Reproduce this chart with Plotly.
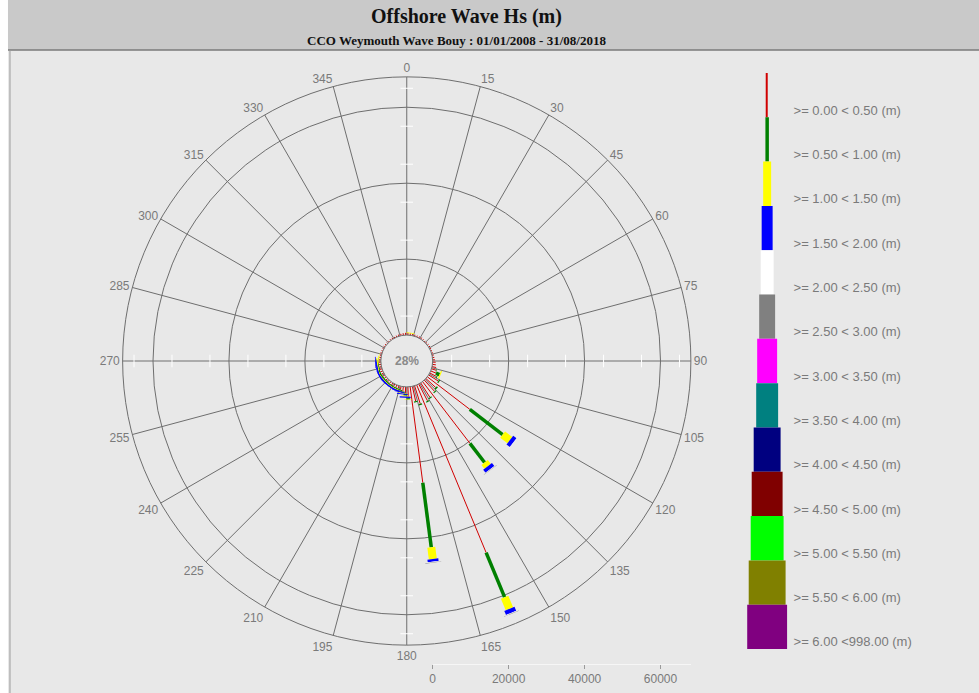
import plotly.graph_objects as go

# ---------------- data ----------------
direction_deg = [
    2.5, 7.5, 12.5, 17.5, 22.5, 27.5, 32.5, 37.5, 42.5, 47.5, 52.5, 57.5, 62.5, 67.5, 72.5, 77.5, 82.5, 87.5,
    92.5, 97.5, 102.5, 107.5, 112.5, 117.5, 122.5, 127.5, 132.5, 137.5, 142.5, 147.5, 152.5, 157.5, 162.5, 167.5, 172.5, 177.5,
    182.5, 187.5, 192.5, 197.5, 202.5, 207.5, 212.5, 217.5, 222.5, 227.5, 232.5, 237.5, 242.5, 247.5, 252.5, 257.5, 262.5, 267.5,
    272.5, 277.5, 282.5, 287.5, 292.5, 297.5, 302.5, 307.5, 312.5, 317.5, 322.5, 327.5, 332.5, 337.5, 342.5, 347.5, 352.5, 357.5,
]

hs_labels = [
    ">= 0.00 < 0.50 (m)", ">= 0.50 < 1.00 (m)", ">= 1.00 < 1.50 (m)", ">= 1.50 < 2.00 (m)",
    ">= 2.00 < 2.50 (m)", ">= 2.50 < 3.00 (m)", ">= 3.00 < 3.50 (m)", ">= 3.50 < 4.00 (m)",
    ">= 4.00 < 4.50 (m)", ">= 4.50 < 5.00 (m)", ">= 5.00 < 5.50 (m)", ">= 5.50 < 6.00 (m)",
    ">= 6.00 <998.00 (m)",
]

hs_00_05 = [
    600, 500, 450, 400, 400, 450, 500, 400, 350, 350, 400, 450, 400, 350, 400, 450, 500, 600,
    800, 900, 1100, 1300, 1500, 2000, 3000, 14100, 3500, 4000, 20500, 4500, 5000, 47800, 5000, 4000, 25500, 3000,
    1800, 1200, 900, 800, 700, 700, 650, 650, 600, 600, 600, 650, 700, 700, 650, 600, 600, 700,
    500, 450, 400, 400, 350, 350, 400, 400, 350, 350, 400, 400, 350, 400, 450, 500, 550, 600,
]
hs_05_10 = [
    0, 0, 0, 0, 0, 0, 0, 0, 0, 0, 0, 0, 0, 0, 0, 0, 0, 0,
    0, 0, 0, 100, 1000, 200, 300, 10900, 400, 300, 6350, 300, 300, 12700, 300, 300, 17150, 300,
    500, 400, 350, 300, 300, 300, 300, 300, 300, 300, 350, 400, 400, 350, 300, 250, 200, 200,
    100, 0, 0, 0, 0, 0, 0, 0, 0, 0, 0, 0, 0, 0, 0, 0, 0, 0,
]
hs_10_15 = [
    0, 150, 0, 0, 0, 0, 0, 0, 0, 0, 0, 0, 0, 0, 0, 0, 0, 0,
    0, 0, 0, 0, 300, 0, 0, 2400, 0, 0, 1280, 0, 0, 3320, 0, 0, 3140, 100,
    250, 200, 150, 150, 150, 150, 150, 150, 150, 150, 150, 150, 150, 150, 150, 200, 250, 400,
    200, 100, 0, 0, 0, 0, 0, 0, 0, 0, 0, 0, 0, 0, 0, 0, 0, 0,
]
hs_15_20 = [
    0, 0, 0, 0, 0, 0, 0, 0, 0, 0, 0, 0, 0, 0, 0, 0, 0, 0,
    0, 0, 0, 0, 0, 0, 0, 1100, 0, 0, 1050, 0, 0, 1160, 0, 0, 680, 0,
    300, 250, 200, 200, 200, 200, 200, 200, 200, 200, 200, 200, 200, 200, 200, 200, 200, 200,
    0, 0, 0, 0, 0, 0, 0, 0, 0, 0, 0, 0, 0, 0, 0, 0, 0, 0,
]
hs_20_25 = [
    0, 0, 0, 0, 0, 0, 0, 0, 0, 0, 0, 0, 0, 0, 0, 0, 0, 0,
    0, 0, 0, 0, 0, 0, 0, 100, 0, 0, 100, 0, 0, 150, 0, 0, 150, 0,
    0, 0, 0, 0, 0, 0, 0, 0, 0, 0, 0, 0, 0, 0, 0, 0, 0, 0,
    0, 0, 0, 0, 0, 0, 0, 0, 0, 0, 0, 0, 0, 0, 0, 0, 0, 0,
]
hs_25_30 = [
    0, 0, 0, 0, 0, 0, 0, 0, 0, 0, 0, 0, 0, 0, 0, 0, 0, 0,
    0, 0, 0, 0, 0, 0, 0, 0, 0, 0, 80, 0, 0, 100, 0, 0, 100, 0,
    0, 0, 0, 0, 0, 0, 0, 0, 0, 0, 0, 0, 0, 0, 0, 0, 0, 0,
    0, 0, 0, 0, 0, 0, 0, 0, 0, 0, 0, 0, 0, 0, 0, 0, 0, 0,
]
hs_30_35 = [0] * 72
hs_35_40 = [0] * 72
hs_40_45 = [0] * 72
hs_45_50 = [0] * 72
hs_50_55 = [0] * 72
hs_55_60 = [0] * 72
hs_60_up = [0] * 72

calm_text = "28%"
radial_ticks = [0, 20000, 40000, 60000]
radial_minor = [5000, 15000, 25000, 35000, 45000, 55000, 65000]
angle_ticks = list(range(0, 360, 15))

# ---------------- styling ----------------
series = [hs_00_05, hs_05_10, hs_10_15, hs_15_20, hs_20_25, hs_25_30, hs_30_35,
          hs_35_40, hs_40_45, hs_45_50, hs_50_55, hs_55_60, hs_60_up]
colors = ["#d00000", "#008000", "#ffff00", "#0000ff", "#ffffff", "#808080", "#ff00ff",
          "#008080", "#000080", "#800000", "#00ff00", "#808000", "#800080"]
widths = [1, 3.5, 8, 11, 13, 16, 20, 22, 27, 31, 33, 37, 40]

R_MAX = 68000
BG = "#e8e8e8"
GRID = "#6e6e6e"
TXT = "#7a7a7a"

fig = go.Figure()

# white minor dashes along the four main axis lines
for ang, sym in [(0, "line-ew"), (180, "line-ew"), (90, "line-ns"), (270, "line-ns")]:
    fig.add_trace(go.Scatterpolar(
        r=radial_minor, theta=[ang] * len(radial_minor), mode="markers",
        marker=dict(symbol=sym, size=9, line=dict(color="#ffffff", width=1)),
        showlegend=False, hoverinfo="skip"))

# stacked rose segments (one line segment per direction per class)
cum = [0.0] * len(direction_deg)
for k, vals in enumerate(series):
    rr, tt = [], []
    for i, d in enumerate(direction_deg):
        v = vals[i]
        if v > 0:
            rr += [cum[i], cum[i] + v, None]
            tt += [d, d, None]
            cum[i] += v
    if rr:
        fig.add_trace(go.Scatterpolar(
            r=rr, theta=tt, mode="lines", connectgaps=False,
            line=dict(color=colors[k], width=widths[k]),
            name=hs_labels[k], showlegend=False, hoverinfo="skip"))

# dummy trace carrying the bottom radial scale axis
fig.add_trace(go.Scatter(x=[0], y=[0], mode="markers", marker=dict(opacity=0),
                         showlegend=False, hoverinfo="skip", xaxis="x", yaxis="y"))

# legend as a stacked bar with growing widths
n = len(hs_labels)
fig.add_trace(go.Bar(
    x=[0] * n, y=[1] * n, base=list(range(n)), width=widths,
    marker=dict(color=colors, line=dict(width=0)),
    xaxis="x2", yaxis="y2", showlegend=False, hoverinfo="skip"))

W, H = 979, 693
cx, cy, R = 405, 361, 285
hole_px = 26

fig.update_layout(
    width=W, height=H,
    margin=dict(l=0, r=0, t=0, b=0),
    paper_bgcolor="white",
    plot_bgcolor="rgba(0,0,0,0)",
    font=dict(family="Liberation Sans, Arial, sans-serif", color=TXT, size=12),
    polar=dict(
        domain=dict(x=[(cx - R) / W, (cx + R) / W], y=[1 - (cy + R) / H, 1 - (cy - R) / H]),
        bgcolor=BG,
        hole=hole_px / R,
        radialaxis=dict(range=[0, R_MAX], tickvals=radial_ticks[1:], showticklabels=False,
                        ticks="", showline=False, gridcolor=GRID, gridwidth=1),
        angularaxis=dict(rotation=90, direction="clockwise", tickvals=angle_ticks,
                         ticktext=[str(a) for a in angle_ticks], ticks="",
                         gridcolor=GRID, gridwidth=1, linecolor=GRID, linewidth=1,
                         tickfont=dict(size=12, color=TXT)),
    ),
    xaxis=dict(domain=[(cx + hole_px) / W, (cx + R) / W], range=[0, R_MAX],
               tickvals=radial_ticks, ticktext=[str(v) for v in radial_ticks],
               anchor="free", position=1 - 664 / H, showgrid=False, zeroline=False,
               showline=True, linecolor="#f6f6f6", ticks="outside", ticklen=4,
               tickcolor="#9a9a9a", tickfont=dict(size=12, color=TXT)),
    yaxis=dict(domain=[0, 0.03], visible=False, range=[-1, 1]),
    xaxis2=dict(domain=[741 / W, 792 / W], range=[-25.5, 25.5], visible=False, fixedrange=True),
    yaxis2=dict(domain=[1 - 649 / H, 1 - 73 / H], range=[n, 0], anchor="x2", side="right",
                tickvals=[i + 0.84 for i in range(n)], ticktext=hs_labels,
                showgrid=False, zeroline=False, showline=False, ticks="",
                tickfont=dict(size=13, color=TXT)),
    shapes=[
        dict(type="rect", xref="paper", yref="paper", x0=5 / W, x1=1, y0=1 - 50 / H, y1=1,
             fillcolor="#c9c9c9", line=dict(width=0), layer="below"),
        dict(type="rect", xref="paper", yref="paper", x0=5 / W, x1=1, y0=0, y1=1 - 50 / H,
             fillcolor=BG, line=dict(width=0), layer="below"),
        dict(type="line", xref="paper", yref="paper", x0=5 / W, x1=1, y0=1 - 50 / H, y1=1 - 50 / H,
             line=dict(color="#7a7a7a", width=1.5), layer="below"),
        dict(type="line", xref="paper", yref="paper", x0=7 / W, x1=7 / W, y0=0, y1=1 - 50 / H,
             line=dict(color="#9a9a9a", width=1), layer="below"),
    ],
    annotations=[
        dict(text="<b>Offshore Wave Hs (m)</b>", x=465 / W, y=1 - 17 / H, xref="paper", yref="paper",
             xanchor="center", yanchor="middle", showarrow=False,
             font=dict(family="Liberation Serif, Times New Roman, serif", size=20, color="#111")),
        dict(text="<b>CCO Weymouth Wave Bouy : 01/01/2008 - 31/08/2018</b>", x=455 / W, y=1 - 40 / H,
             xanchor="center", yanchor="middle",
             xref="paper", yref="paper", showarrow=False,
             font=dict(family="Liberation Serif, Times New Roman, serif", size=13, color="#111")),
        dict(text="<b>" + calm_text + "</b>", x=cx / W, y=1 - cy / H, xref="paper", yref="paper",
             xanchor="center", yanchor="middle",
             showarrow=False, font=dict(size=12, color="#8a8a8a")),
    ],
)

fig.write_html("out.html", config={"displayModeBar": False},
               post_script="document.body.style.margin='0px';")
